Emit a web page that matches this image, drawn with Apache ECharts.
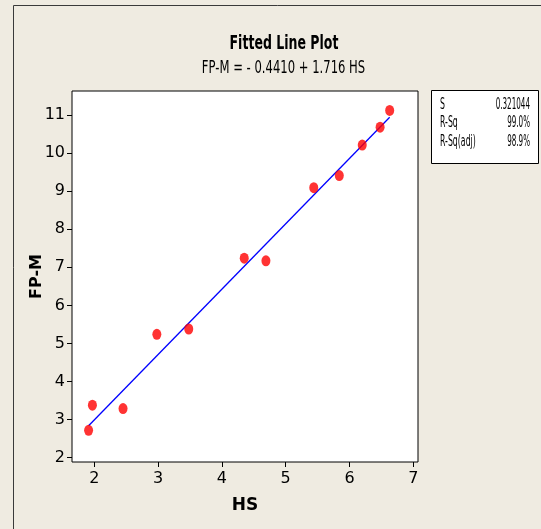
<!DOCTYPE html>
<html>
<head>
<meta charset="utf-8">
<script src="https://cdn.jsdelivr.net/npm/echarts@6/dist/echarts.min.js"></script>
<style>
html,body{margin:0;padding:0;background:#EFEBE1;}
#chart{width:541px;height:529px;}
</style>
</head>
<body>
<div id="chart"></div>
<script>
// Observed data (HS vs FP-M)
const hsValues  = [1.91, 1.97, 2.45, 2.98, 3.48, 4.35, 4.69, 5.44, 5.84, 6.20, 6.48, 6.63];
const fpmValues = [2.72, 3.38, 3.29, 5.24, 5.38, 7.24, 7.17, 9.09, 9.41, 10.21, 10.68, 11.12];
// Fitted line end points
const fitX = [1.91, 6.63];
const fitY = [2.84, 10.94];
// Tick labels
const xTicks = [2, 3, 4, 5, 6, 7];
const yTicks = [2, 3, 4, 5, 6, 7, 8, 9, 10, 11];
// Titles and stats table
const titleText = 'Fitted Line Plot';
const subtitleText = 'FP-M = - 0.4410 + 1.716 HS';
const statNames  = ['S', 'R-Sq', 'R-Sq(adj)'];
const statValues = ['0.321044', '99.0%', '98.9%'];

const fam = '"DejaVu Sans", Verdana, sans-serif';

const chart = echarts.init(document.getElementById('chart'), null, {renderer: 'canvas'});

const graphics = [
  {type: 'line', shape: {x1: 13.5, y1: 5.5, x2: 541, y2: 5.5}, style: {stroke: '#3a3a3a', lineWidth: 1}},
  {type: 'line', shape: {x1: 13.5, y1: 5.5, x2: 13.5, y2: 529}, style: {stroke: '#3a3a3a', lineWidth: 1}},
  {type: 'rect', shape: {x: 431.5, y: 90.5, width: 107, height: 73}, style: {fill: '#ffffff', stroke: '#000000', lineWidth: 1}},
  {type: 'text', x: 284, y: 44, scaleX: 0.66, style: {text: titleText, font: 'bold 19px ' + fam, fill: '#000', textAlign: 'center', textVerticalAlign: 'middle'}},
  {type: 'text', x: 283.5, y: 68, scaleX: 0.645, style: {text: subtitleText, font: '18px ' + fam, fill: '#000', textAlign: 'center', textVerticalAlign: 'middle'}}
];
statNames.forEach((n, i) => {
  graphics.push({type: 'text', x: 440, y: 105 + i * 18.5, scaleX: 0.52, style: {text: n, font: '15px ' + fam, fill: '#000', textAlign: 'left', textVerticalAlign: 'middle'}});
  graphics.push({type: 'text', x: 530, y: 105 + i * 18.5, scaleX: 0.48, style: {text: statValues[i], font: '15px ' + fam, fill: '#000', textAlign: 'right', textVerticalAlign: 'middle'}});
});

const option = {
  backgroundColor: '#EFEBE1',
  animation: false,
  grid: {left: 72, top: 91, width: 346, height: 371, show: true, backgroundColor: '#ffffff', borderColor: '#000000', borderWidth: 1, containLabel: false},
  xAxis: {
    type: 'value', min: 1.65, max: 7.074,
    name: 'HS', nameLocation: 'middle', nameGap: 35, nameMoveOverlap: false,
    nameTextStyle: {fontFamily: fam, fontWeight: 'bold', fontSize: 17, color: '#000'},
    axisLine: {show: false},
    axisTick: {show: true, inside: false, length: 5, customValues: xTicks, lineStyle: {color: '#000'}},
    axisLabel: {customValues: xTicks, margin: 9, fontFamily: fam, fontSize: 16, color: '#000'},
    splitLine: {show: false}
  },
  yAxis: {
    type: 'value', min: 1.887, max: 11.63,
    name: 'FP-M', nameLocation: 'middle', nameGap: 27, nameRotate: 90, nameMoveOverlap: false,
    nameTextStyle: {fontFamily: fam, fontWeight: 'bold', fontSize: 16, color: '#000'},
    axisLine: {show: false},
    axisTick: {show: true, inside: false, length: 5, customValues: yTicks, lineStyle: {color: '#000'}},
    axisLabel: {customValues: yTicks, margin: 7, fontFamily: fam, fontSize: 16, color: '#000'},
    splitLine: {show: false}
  },
  series: [
    {
      type: 'line', data: fitX.map((x, i) => [x, fitY[i]]),
      showSymbol: false, symbol: 'none',
      lineStyle: {color: '#0000FF', width: 1.3}, z: 2
    },
    {
      type: 'scatter', data: hsValues.map((x, i) => [x, fpmValues[i]]),
      symbol: 'circle', symbolSize: [9, 11],
      itemStyle: {color: '#FF0000'}, z: 3
    }
  ],
  graphic: graphics
};
chart.setOption(option);
</script>
</body>
</html>
